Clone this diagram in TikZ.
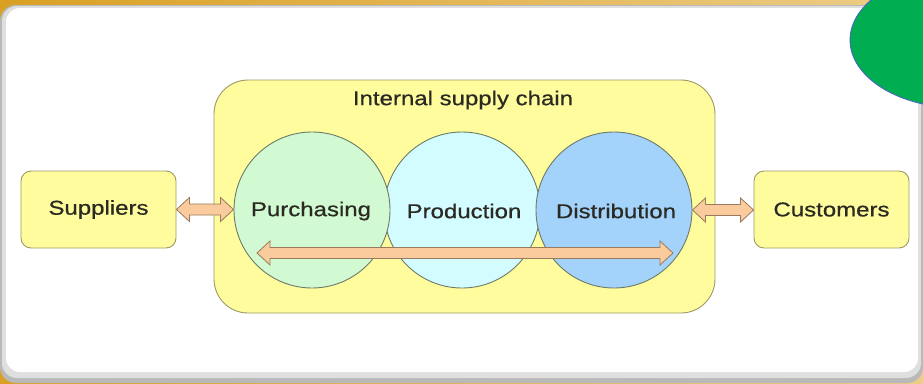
\documentclass[tikz,border=0pt]{standalone}
\usepackage{fontspec}
\setmainfont{Liberation Sans}[FakeBold=0.6]
\usetikzlibrary{calc}
\definecolor{goldA}{HTML}{D9A023}
\definecolor{goldB}{HTML}{ECCD88}
\definecolor{boxfill}{HTML}{FFFC9E}
\definecolor{boxline}{HTML}{9C9A66}
\definecolor{purfill}{HTML}{D2FAD2}
\definecolor{profill}{HTML}{D2FCFF}
\definecolor{disfill}{HTML}{A3D2FA}
\definecolor{circline}{HTML}{6E7A66}
\definecolor{peach}{HTML}{FACB9C}
\definecolor{arrline}{HTML}{9A7A5E}
\definecolor{txt}{HTML}{2A2A22}
\definecolor{blob}{HTML}{00AD50}
\definecolor{blobline}{HTML}{4A62C8}
\tikzset{
  lbl/.style={text=txt, font=\fontsize{20bp}{24bp}\selectfont, inner sep=0pt},
  endbox/.style={draw=boxline, fill=boxfill, line width=0.9bp, rounded corners=10bp,
    minimum width=155bp, minimum height=77bp, inner sep=0pt},
  circ/.style={circle, draw=circline, line width=0.9bp, minimum size=156bp, inner sep=0pt},
  fat/.style={draw=arrline, fill=peach, line width=0.8bp, line join=miter,
    to path={let \p1=(\tikztostart), \p2=(\tikztotarget) in
      (\x1,\y1) -- (\x1+13bp,\y1+12bp) -- (\x1+13bp,\y1+5.5bp) -- (\x2-13bp,\y1+5.5bp)
      -- (\x2-13bp,\y1+12bp) -- (\x2,\y1) -- (\x2-13bp,\y1-12bp) -- (\x2-13bp,\y1-5.5bp)
      -- (\x1+13bp,\y1-5.5bp) -- (\x1+13bp,\y1-12bp) -- cycle}}
}
\newcommand{\wtxt}[1]{\scalebox{1.2}[1]{#1}}
\begin{document}
\begin{tikzpicture}[x=1bp,y=-1bp]
\useasboundingbox (0,0) rectangle (923,383);
% background
\shade[left color=goldA, right color=goldB] (0,0) rectangle (923,383);
\fill[gray!55, rounded corners=16bp] (0,5) rectangle (923,383);
\fill[gray!25, rounded corners=15bp] (2,6) rectangle (921,378);
\fill[white, rounded corners=14bp] (6,8) rectangle (918,372);
\fill[blob, draw=blobline, line width=0.8bp] (960,40) ellipse [x radius=110, y radius=68];
% internal supply chain
\node[draw=boxline, fill=boxfill, line width=0.9bp, rounded corners=34bp,
  minimum width=501bp, minimum height=233bp, inner sep=0pt] (isc) at (464.5,196.5) {};
\node[lbl] (title) at (463,100) {\wtxt{Internal supply chain}};
\node[circ, fill=profill] (pro) at (462,210) {};
\node[circ, fill=purfill] (pur) at (312,210) {};
\node[circ, fill=disfill] (dis) at (614,210) {};
\node[lbl] (purt) at (311,211) {\wtxt{Purchasing}};
\node[lbl] (prot) at (464,211) {\wtxt{Production}};
\node[lbl] (dist) at (616,211) {\wtxt{Distribution}};
% end boxes
\node[endbox] (sup) at (98.5,209.5) {};
\node[lbl] at (sup.center) {\wtxt{Suppliers}};
\node[endbox] (cus) at (831.5,209.5) {};
\node[lbl] at (cus.center) {\wtxt{Customers}};
% arrows
\draw[fat] (sup.east) to (pur.west);
\draw[fat] (dis.east) to (cus.west);
\coordinate (la) at ($(pur.center)+(-55,43)$);
\coordinate (lb) at ($(dis.center)+(59,43)$);
\draw[fat] (la) to (lb);
\end{tikzpicture}
\end{document}
